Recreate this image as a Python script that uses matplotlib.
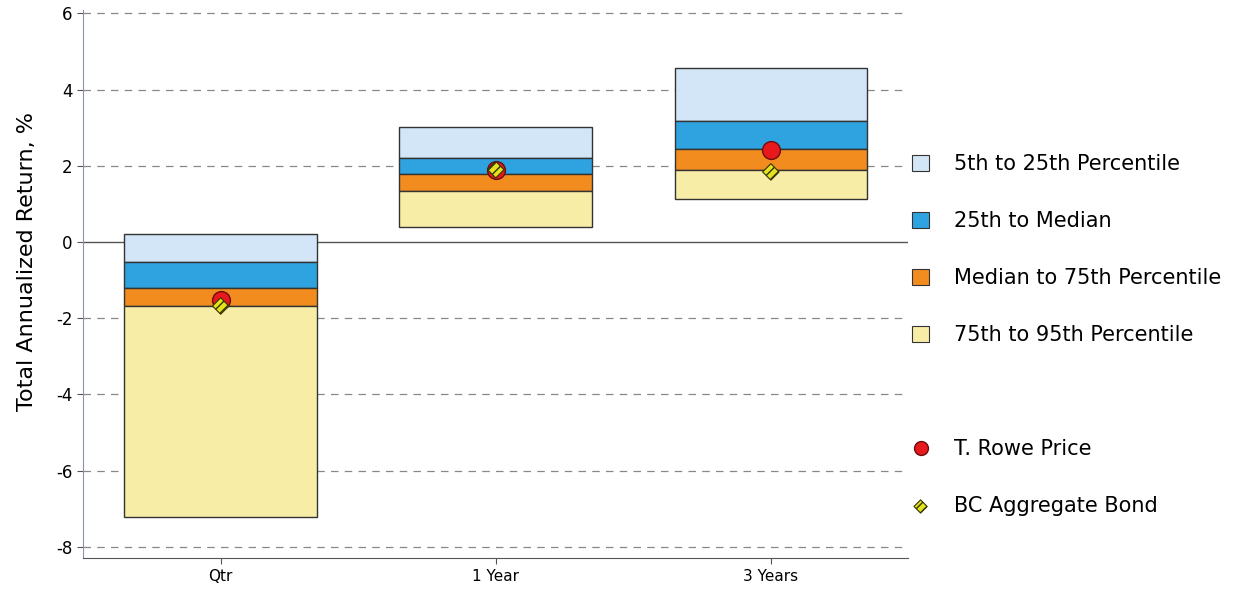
import matplotlib
matplotlib.use("Agg")
import matplotlib.pyplot as plt
from matplotlib.patches import Patch
from matplotlib.lines import Line2D
import numpy as np

# periods and percentile boundaries (top -> bottom: 5th, 25th, median, 75th, 95th)
periods = ["Qtr", "1 Year", "3 Years"]
p5 = [0.21, 3.01, 4.58]
p25 = [-0.52, 2.21, 3.18]
p50 = [-1.20, 1.78, 2.45]
p75 = [-1.68, 1.34, 1.89]
p95 = [-7.22, 0.39, 1.12]
trowe = [-1.53, 1.90, 2.41]
bc_agg = [-1.68, 1.90, 1.84]

band_labels = ["5th to 25th Percentile", "25th to Median",
               "Median to 75th Percentile", "75th to 95th Percentile"]
band_colors = ["#d3e6f7", "#2ea3e0", "#f28c1e", "#f8eda6"]

plt.rcParams['font.family'] = ['DejaVu Sans']
plt.rcParams['axes.unicode_minus'] = False
fig = plt.figure(figsize=(12.41, 5.93), dpi=100)
ax = fig.add_axes([0.067, 0.0587, 0.665, 0.925])

x = np.arange(len(periods))
w = 0.70
tops = [p5, p25, p50, p75]
bots = [p25, p50, p75, p95]
for i in range(4):
    hi = np.array(tops[i])
    lo = np.array(bots[i])
    ax.bar(x, hi - lo, bottom=lo, width=w, color=band_colors[i],
           edgecolor="#333333", linewidth=1.0, zorder=3)

ax.scatter(x, trowe, s=165, marker="o", color="#e8191c", edgecolor="#6b0d0d",
           linewidth=1.0, zorder=5)
ax.scatter(x, bc_agg, s=70, marker="D", color="#e4e31e", edgecolor="#333300",
           linewidth=0.8, hatch="////", zorder=6)

ax.set_xlim(-0.5, 2.5)
ax.set_ylim(-8.3, 6.1)
ax.set_yticks(np.arange(-8, 7, 2))
ax.set_xticks(x)
ax.set_xticklabels(periods, fontsize=11)
ax.tick_params(axis="y", labelsize=12, length=4, color="#555555")
ax.tick_params(axis="x", length=4, color="#555555")
for yv in np.arange(-8, 7, 2):
    if yv == 0:
        ax.axhline(0, color="#555555", linewidth=1.0, zorder=2)
    else:
        ax.axhline(yv, color="#888888", linewidth=0.9, linestyle=(0, (6, 5)), zorder=1)

for s in ["top", "right"]:
    ax.spines[s].set_visible(False)
ax.spines["left"].set_color("#8a93a8")
ax.spines["bottom"].set_color("#555555")
ax.set_ylabel("Total Annualized Return, %", fontsize=16)
ax.yaxis.set_label_coords(-0.056, 0.54)

handles = [Patch(facecolor=c, edgecolor="#333333", linewidth=0.8) for c in band_colors]
labels = list(band_labels)
handles.append(Line2D([], [], linestyle="none"))
labels.append(" ")
handles.append(Line2D([], [], linestyle="none", marker="o", markersize=10,
                      markerfacecolor="#e8191c", markeredgecolor="#6b0d0d"))
labels.append("T. Rowe Price")
bc_handle = ax.scatter([], [], s=45, marker="D", color="#e4e31e",
                       edgecolor="#333300", linewidth=0.8, hatch="////")
handles.append(bc_handle)
labels.append("BC Aggregate Bond")

fig.legend(handles, labels, loc="upper left", bbox_to_anchor=(0.720, 0.772),
           frameon=False, fontsize=15, handlelength=0.8, handleheight=0.8,
           labelspacing=1.78, handletextpad=1.2, scatterpoints=1)

fig.savefig("out.png", dpi=100)
